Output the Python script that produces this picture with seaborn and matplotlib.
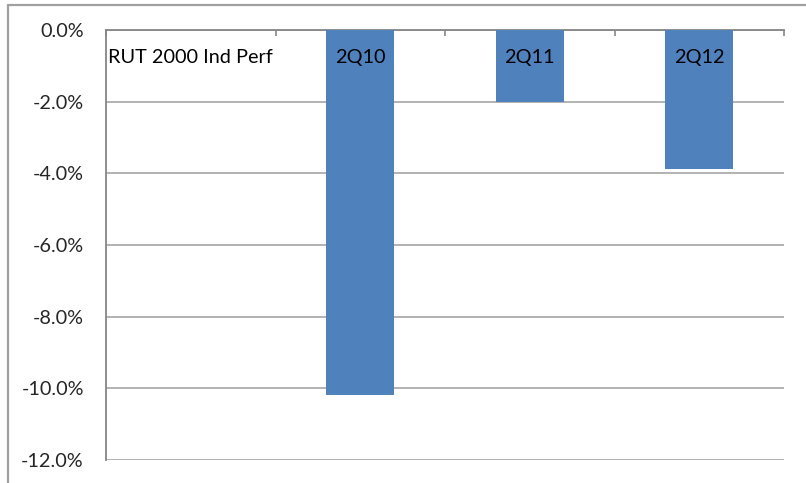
import numpy as np
import pandas as pd
import seaborn as sns
import matplotlib.pyplot as plt
from matplotlib.lines import Line2D
from matplotlib.ticker import PercentFormatter
import matplotlib.transforms as mtransforms

# data (percent)
categories = ["RUT 2000 Ind Perf", "2Q10", "2Q11", "2Q12"]
values = [np.nan, -10.2, -2.0, -3.88]
y_ticks = [0, -2, -4, -6, -8, -10, -12]

df = pd.DataFrame({"period": categories, "perf": values})

sns.set_style("white")
plt.rcParams["font.family"] = ["Lato", "DejaVu Sans"]
plt.rcParams["axes.unicode_minus"] = False

fig = plt.figure(figsize=(8.06, 4.83), dpi=100)
ax = fig.add_axes([106 / 806, 1 - 460 / 483, 678 / 806, 430 / 483])

sns.barplot(data=df, x="period", y="perf", order=categories, color="#4F81BD",
            width=0.4, saturation=1, linewidth=0, ax=ax, zorder=3)

ax.set_ylim(-12, 0)
ax.set_xlim(-0.5, len(categories) - 0.5)
ax.set_yticks(y_ticks)
ax.yaxis.set_major_formatter(PercentFormatter(decimals=1))
ax.set_xlabel("")
ax.set_ylabel("")

# category labels sit inside the plot under the zero line
ax.set_xticks([])
trans = mtransforms.blended_transform_factory(ax.transData, ax.transAxes)
for i, lab in enumerate(categories):
    ax.text(i, 0.937, lab, transform=trans, ha="center", va="center",
            fontsize=14.3, color="black", zorder=4)

# excel style axis at zero with boundary ticks pointing down
ax.set_xticks(np.arange(-0.5, len(categories), 1), minor=True)
ax.xaxis.set_ticks_position("top")
ax.tick_params(axis="x", which="minor", direction="in", length=4,
               color="#868686", width=1.2)
ax.tick_params(axis="y", direction="out", length=5, color="#868686",
               width=1.2, labelsize=14.3, pad=11)

ax.grid(axis="y", color="#a6a6a6", linewidth=1.2, zorder=0)
ax.set_axisbelow(True)
for side in ["bottom", "right"]:
    ax.spines[side].set_visible(False)
for side in ["left", "top"]:
    ax.spines[side].set_color("#868686")
    ax.spines[side].set_linewidth(1.3)

# chart area border (only left and top visible in crop)
fig.add_artist(Line2D([8 / 806, 8 / 806], [0, 1 - 5 / 483], color="#a0a0a0", linewidth=1.6))
fig.add_artist(Line2D([8 / 806, 1], [1 - 5 / 483, 1 - 5 / 483], color="#a0a0a0", linewidth=1.6))

fig.savefig("out.png", dpi=100)
